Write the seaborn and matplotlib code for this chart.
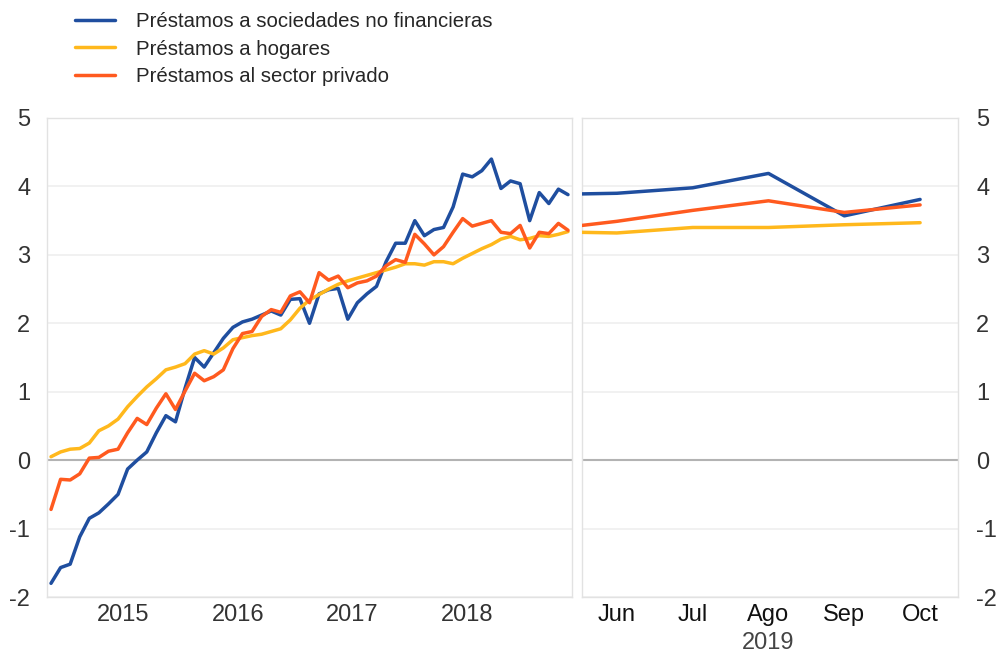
import numpy as np
import pandas as pd
import matplotlib
matplotlib.use("Agg")
import matplotlib.pyplot as plt
import matplotlib.transforms as mtransforms
import seaborn as sns

# monthly series, Nov 2014 - May 2019
months = pd.date_range("2014-11-01", periods=55, freq="MS")

sociedades = [-1.80, -1.57, -1.52, -1.12, -0.85, -0.77, -0.64, -0.50, -0.13, 0.00,
              0.12, 0.40, 0.65, 0.56, 1.05, 1.50, 1.36, 1.57, 1.78, 1.94,
              2.02, 2.06, 2.12, 2.18, 2.12, 2.35, 2.36, 2.00, 2.43, 2.49,
              2.51, 2.06, 2.30, 2.43, 2.54, 2.90, 3.17, 3.17, 3.50, 3.28,
              3.37, 3.40, 3.70, 4.18, 4.14, 4.23, 4.40, 3.97, 4.08, 4.04,
              3.50, 3.91, 3.75, 3.96, 3.88]
hogares = [0.05, 0.12, 0.16, 0.17, 0.25, 0.43, 0.50, 0.60, 0.78, 0.93,
           1.07, 1.19, 1.32, 1.36, 1.41, 1.55, 1.60, 1.55, 1.64, 1.76,
           1.79, 1.82, 1.84, 1.88, 1.92, 2.05, 2.22, 2.34, 2.42, 2.50,
           2.57, 2.62, 2.66, 2.70, 2.74, 2.78, 2.82, 2.87, 2.87, 2.85,
           2.90, 2.90, 2.87, 2.95, 3.02, 3.09, 3.15, 3.23, 3.27, 3.22,
           3.24, 3.28, 3.27, 3.30, 3.34]
privado = [-0.72, -0.28, -0.29, -0.20, 0.03, 0.04, 0.13, 0.16, 0.40, 0.61,
           0.52, 0.76, 0.97, 0.74, 1.01, 1.27, 1.16, 1.22, 1.32, 1.63,
           1.85, 1.88, 2.10, 2.20, 2.16, 2.40, 2.46, 2.30, 2.74, 2.63,
           2.69, 2.52, 2.59, 2.62, 2.69, 2.84, 2.93, 2.89, 3.30, 3.16,
           3.00, 3.12, 3.33, 3.53, 3.42, 3.46, 3.50, 3.33, 3.31, 3.43,
           3.10, 3.33, 3.31, 3.46, 3.36]

# recent months 2019 (May repeated so the line enters the panel)
recent_months = ["May", "Jun", "Jul", "Ago", "Sep", "Oct"]
sociedades_recent = [3.88, 3.90, 3.98, 4.19, 3.57, 3.81]
hogares_recent = [3.34, 3.32, 3.40, 3.40, 3.44, 3.47]
privado_recent = [3.36, 3.49, 3.65, 3.79, 3.62, 3.73]

years = [2015, 2016, 2017, 2018]

labels = ["Préstamos a sociedades no financieras",
          "Préstamos a hogares",
          "Préstamos al sector privado"]
colors = ["#1f4e9f", "#ffb81c", "#ff5a1f"]
palette = dict(zip(labels, colors))

left = pd.concat([
    pd.DataFrame({"pos": np.arange(len(months)), "value": vals, "serie": lab})
    for lab, vals in zip(labels, [sociedades, hogares, privado])
])
right = pd.concat([
    pd.DataFrame({"pos": np.arange(len(recent_months)) - 1, "value": vals, "serie": lab})
    for lab, vals in zip(labels, [sociedades_recent, hogares_recent, privado_recent])
])

sns.set_style("white")
plt.rcParams["font.family"] = ["Liberation Sans", "DejaVu Sans"]

FS = 17

fig = plt.figure(figsize=(9.97, 6.53), dpi=100)
ax1 = fig.add_axes([47 / 997, 56 / 653, 525 / 997, 479 / 653])
ax2 = fig.add_axes([582 / 997, 56 / 653, 376 / 997, 479 / 653])

for ax, df in [(ax1, left), (ax2, right)]:
    sns.lineplot(data=df, x="pos", y="value", hue="serie", hue_order=labels,
                 palette=palette, linewidth=2.5, legend=False, ax=ax, zorder=3)
    ax.set_ylim(-2, 5)
    ax.set_yticks(range(-2, 6))
    ax.set_yticklabels([str(v) for v in range(-2, 6)])
    for v in range(-2, 6):
        if v == 0:
            ax.axhline(v, color="#b3b3b3", lw=1.5, zorder=1)
        else:
            ax.axhline(v, color="#efefef", lw=1.2, zorder=1)
    for s in ax.spines.values():
        s.set_color("#e2e2e2")
        s.set_linewidth(1.0)
    ax.set_xlabel("")
    ax.set_ylabel("")

# left panel
ax1.set_xlim(-0.42, len(months) - 0.58)
year_pos = [list(months.year).index(y) + 5.5 for y in years]
ax1.set_xticks(year_pos)
ax1.set_xticklabels([str(y) for y in years], fontsize=FS, color="#333333")
ax1.tick_params(axis="x", length=0, pad=5)
qpos = [i for i, m in enumerate(months) if m.month in (1, 4, 7, 10)]
ax1.set_xticks(qpos, minor=True)
ax1.tick_params(axis="x", which="minor", length=4, color="#e2e2e2", direction="out")
ax1.tick_params(axis="y", length=0, labelsize=FS, labelcolor="#333333", pad=12)

# right panel
ax2.set_xlim(-0.46, 4.5)
ax2.set_xticks(range(len(recent_months) - 1))
ax2.set_xticklabels(recent_months[1:], fontsize=FS, color="#111111")
ax2.tick_params(axis="x", length=0, pad=5)
ax2.yaxis.tick_right()
ax2.tick_params(axis="y", length=0, labelsize=FS, labelcolor="#333333", pad=13)
trans = mtransforms.blended_transform_factory(ax2.transData, fig.transFigure)
ax2.text(2, 1 - 643 / 653, "2019", ha="center", va="center", fontsize=FS,
         color="#444444", transform=trans)

handles = [plt.Line2D([], [], color=c, lw=2.5) for c in colors]
fig.legend(handles, labels, loc="upper left", bbox_to_anchor=(75 / 997, 1 - 12 / 653),
           frameon=False, fontsize=14.7, handlelength=1.95, handletextpad=1.05,
           labelspacing=0.42, borderpad=0, borderaxespad=0)

fig.savefig("out.png", dpi=100)
